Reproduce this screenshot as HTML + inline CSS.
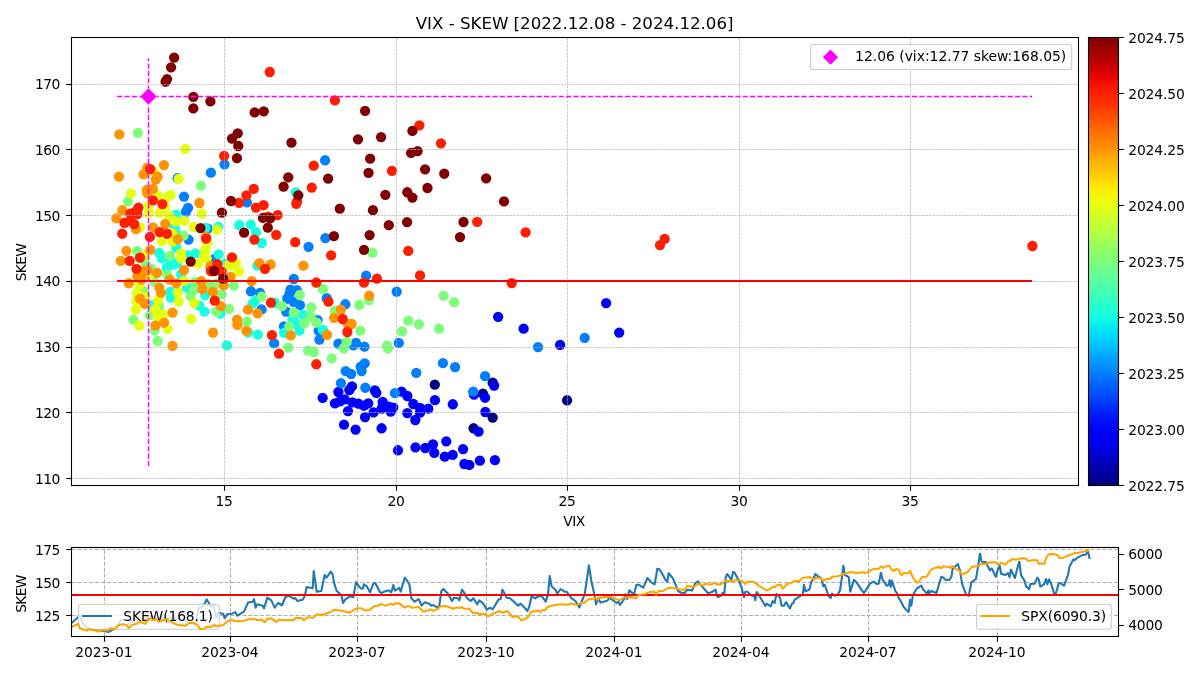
<!DOCTYPE html>
<html lang="en">
<head>
<meta charset="utf-8">
<title>VIX - SKEW [2022.12.08 - 2024.12.06]</title>
<style>
html,body{margin:0;padding:0;background:#fff;}
body{width:1200px;height:675px;overflow:hidden;font-family:"DejaVu Sans","Liberation Sans",sans-serif;}
svg text{white-space:pre;}
</style>
</head>
<body>
<svg width="1200" height="675" viewBox="0 0 1200 675" style="display:block;font-family:'DejaVu Sans','Liberation Sans',sans-serif">
<defs>
<clipPath id="c1"><rect x="71.5" y="37.5" width="1007" height="448"/></clipPath>
<clipPath id="c2"><rect x="71.5" y="547.5" width="1047" height="89"/></clipPath>
<linearGradient id="jet" x1="0" y1="0" x2="0" y2="1"><stop offset="0" stop-color="#800000"/><stop offset="0.02" stop-color="#960000"/><stop offset="0.04" stop-color="#ad0000"/><stop offset="0.06" stop-color="#c40000"/><stop offset="0.08" stop-color="#df0000"/><stop offset="0.1" stop-color="#f60b00"/><stop offset="0.12" stop-color="#ff1e00"/><stop offset="0.15" stop-color="#ff3400"/><stop offset="0.17" stop-color="#ff4700"/><stop offset="0.19" stop-color="#ff5900"/><stop offset="0.21" stop-color="#ff6f00"/><stop offset="0.23" stop-color="#ff8200"/><stop offset="0.25" stop-color="#ff9400"/><stop offset="0.27" stop-color="#ffab00"/><stop offset="0.29" stop-color="#ffbd00"/><stop offset="0.31" stop-color="#ffd000"/><stop offset="0.33" stop-color="#ffe600"/><stop offset="0.35" stop-color="#f4f802"/><stop offset="0.38" stop-color="#e4ff13"/><stop offset="0.4" stop-color="#d1ff26"/><stop offset="0.42" stop-color="#c1ff36"/><stop offset="0.44" stop-color="#b1ff46"/><stop offset="0.46" stop-color="#9dff5a"/><stop offset="0.48" stop-color="#8dff6a"/><stop offset="0.5" stop-color="#7dff7a"/><stop offset="0.52" stop-color="#6aff8d"/><stop offset="0.54" stop-color="#5aff9d"/><stop offset="0.56" stop-color="#49ffad"/><stop offset="0.58" stop-color="#36ffc1"/><stop offset="0.6" stop-color="#26ffd1"/><stop offset="0.62" stop-color="#16ffe1"/><stop offset="0.65" stop-color="#02e8f4"/><stop offset="0.67" stop-color="#00d4ff"/><stop offset="0.69" stop-color="#00c0ff"/><stop offset="0.71" stop-color="#00a8ff"/><stop offset="0.73" stop-color="#0094ff"/><stop offset="0.75" stop-color="#0080ff"/><stop offset="0.77" stop-color="#0068ff"/><stop offset="0.79" stop-color="#0054ff"/><stop offset="0.81" stop-color="#0040ff"/><stop offset="0.83" stop-color="#0028ff"/><stop offset="0.85" stop-color="#0014ff"/><stop offset="0.88" stop-color="#0000ff"/><stop offset="0.9" stop-color="#0000f6"/><stop offset="0.92" stop-color="#0000df"/><stop offset="0.94" stop-color="#0000c8"/><stop offset="0.96" stop-color="#0000ad"/><stop offset="0.98" stop-color="#000096"/><stop offset="1" stop-color="#000080"/></linearGradient>
</defs>
<rect width="1200" height="675" fill="#fff"/>
<g id="scatter-axes">
<g clip-path="url(#c1)">
<g fill="#000080"><circle cx="434.8" cy="384.67" r="5.15"/><circle cx="492.67" cy="382.67" r="5.15"/><circle cx="482.93" cy="393.73" r="5.15"/><circle cx="492.67" cy="417.6" r="5.15"/><circle cx="473.6" cy="428.27" r="5.15"/><circle cx="567.07" cy="400.27" r="5.15"/></g>
<g fill="#0000ff"><circle cx="338.4" cy="392" r="5.15"/><circle cx="349.33" cy="390" r="5.15"/><circle cx="498.13" cy="316.8" r="5.15"/><circle cx="523.6" cy="328.67" r="5.15"/><circle cx="560.13" cy="344.8" r="5.15"/><circle cx="606.13" cy="303.07" r="5.15"/><circle cx="619.2" cy="332.53" r="5.15"/><circle cx="352" cy="386.4" r="5.15"/><circle cx="374.93" cy="390.4" r="5.15"/><circle cx="376.27" cy="392.93" r="5.15"/><circle cx="322.67" cy="397.87" r="5.15"/><circle cx="334.93" cy="403.33" r="5.15"/><circle cx="340" cy="401.33" r="5.15"/><circle cx="344.67" cy="399.33" r="5.15"/><circle cx="352.27" cy="402.4" r="5.15"/><circle cx="358.4" cy="403.73" r="5.15"/><circle cx="364" cy="405.73" r="5.15"/><circle cx="368.27" cy="403.33" r="5.15"/><circle cx="348" cy="411.07" r="5.15"/><circle cx="365.07" cy="417.07" r="5.15"/><circle cx="373.6" cy="412.4" r="5.15"/><circle cx="382.67" cy="402" r="5.15"/><circle cx="381.6" cy="408.67" r="5.15"/><circle cx="388.67" cy="406.67" r="5.15"/><circle cx="393.33" cy="407.6" r="5.15"/><circle cx="390.67" cy="411.6" r="5.15"/><circle cx="401.6" cy="391.6" r="5.15"/><circle cx="407.33" cy="396" r="5.15"/><circle cx="413.33" cy="404" r="5.15"/><circle cx="407.33" cy="413.07" r="5.15"/><circle cx="415.33" cy="420" r="5.15"/><circle cx="420" cy="408" r="5.15"/><circle cx="420" cy="412.67" r="5.15"/><circle cx="428.27" cy="408.67" r="5.15"/><circle cx="434.93" cy="400.13" r="5.15"/><circle cx="452.8" cy="404.27" r="5.15"/><circle cx="344" cy="424.67" r="5.15"/><circle cx="355.6" cy="429.6" r="5.15"/><circle cx="381.6" cy="428.27" r="5.15"/><circle cx="494.13" cy="385.6" r="5.15"/><circle cx="474" cy="394.67" r="5.15"/><circle cx="485.07" cy="397.73" r="5.15"/><circle cx="485.33" cy="412" r="5.15"/><circle cx="478.53" cy="431.6" r="5.15"/><circle cx="398" cy="450.27" r="5.15"/><circle cx="415.47" cy="447.47" r="5.15"/><circle cx="425.33" cy="448" r="5.15"/><circle cx="432.93" cy="444.4" r="5.15"/><circle cx="434.27" cy="452.93" r="5.15"/><circle cx="446.27" cy="441.33" r="5.15"/><circle cx="444.8" cy="456.67" r="5.15"/><circle cx="452.67" cy="454.93" r="5.15"/><circle cx="463.07" cy="449.07" r="5.15"/><circle cx="464.4" cy="464" r="5.15"/><circle cx="469.33" cy="464.93" r="5.15"/><circle cx="479.87" cy="460.67" r="5.15"/><circle cx="494.93" cy="460.13" r="5.15"/></g>
<g fill="#0080ff"><circle cx="224.53" cy="164.4" r="5.15"/><circle cx="210.93" cy="172.67" r="5.15"/><circle cx="177.6" cy="178.27" r="5.15"/><circle cx="184" cy="196.67" r="5.15"/><circle cx="188" cy="207.81" r="5.15"/><circle cx="246.88" cy="202.27" r="5.15"/><circle cx="185.87" cy="211.87" r="5.15"/><circle cx="188.53" cy="239.6" r="5.15"/><circle cx="207.73" cy="228.61" r="5.15"/><circle cx="214.13" cy="259.27" r="5.15"/><circle cx="308.53" cy="246.85" r="5.15"/><circle cx="325.39" cy="238.21" r="5.15"/><circle cx="250.93" cy="291.27" r="5.15"/><circle cx="260" cy="292.87" r="5.15"/><circle cx="261.6" cy="309.4" r="5.15"/><circle cx="293.81" cy="279" r="5.15"/><circle cx="290.4" cy="289.67" r="5.15"/><circle cx="296.8" cy="290.2" r="5.15"/><circle cx="289.33" cy="294.47" r="5.15"/><circle cx="287.2" cy="298.73" r="5.15"/><circle cx="293.6" cy="301.93" r="5.15"/><circle cx="300" cy="305.13" r="5.15"/><circle cx="286.13" cy="311.53" r="5.15"/><circle cx="317.6" cy="320.07" r="5.15"/><circle cx="284" cy="326.4" r="5.15"/><circle cx="326.67" cy="298.2" r="5.15"/><circle cx="345.33" cy="304.27" r="5.15"/><circle cx="274.19" cy="343.47" r="5.15"/><circle cx="318.67" cy="330.67" r="5.15"/><circle cx="319.41" cy="339.52" r="5.15"/><circle cx="338.4" cy="343.68" r="5.15"/><circle cx="345.73" cy="371.07" r="5.15"/><circle cx="340.93" cy="383.07" r="5.15"/><circle cx="325.07" cy="160.27" r="5.15"/><circle cx="366.13" cy="275.73" r="5.15"/><circle cx="396.67" cy="291.73" r="5.15"/><circle cx="356" cy="342.93" r="5.15"/><circle cx="353.33" cy="345.33" r="5.15"/><circle cx="364.4" cy="346.67" r="5.15"/><circle cx="398.8" cy="342.93" r="5.15"/><circle cx="364.67" cy="363.33" r="5.15"/><circle cx="360.67" cy="366.67" r="5.15"/><circle cx="442.93" cy="363.2" r="5.15"/><circle cx="455.07" cy="367.07" r="5.15"/><circle cx="538" cy="347.2" r="5.15"/><circle cx="584.67" cy="337.87" r="5.15"/><circle cx="361.6" cy="371.07" r="5.15"/><circle cx="351.07" cy="374" r="5.15"/><circle cx="365.33" cy="387.73" r="5.15"/><circle cx="394.93" cy="393.07" r="5.15"/><circle cx="416.27" cy="372.93" r="5.15"/><circle cx="485.07" cy="376.13" r="5.15"/><circle cx="473.2" cy="391.6" r="5.15"/></g>
<g fill="#16ffe1"><circle cx="176.27" cy="214.53" r="5.15"/><circle cx="174.67" cy="226.8" r="5.15"/><circle cx="175.73" cy="232.13" r="5.15"/><circle cx="176.27" cy="247.6" r="5.15"/><circle cx="205.6" cy="227.87" r="5.15"/><circle cx="218.4" cy="226.8" r="5.15"/><circle cx="195.47" cy="253.47" r="5.15"/><circle cx="218.61" cy="254.32" r="5.15"/><circle cx="159.2" cy="252.93" r="5.15"/><circle cx="161.87" cy="258.27" r="5.15"/><circle cx="187.47" cy="255.07" r="5.15"/><circle cx="295.73" cy="192.4" r="5.15"/><circle cx="239.2" cy="224.99" r="5.15"/><circle cx="250.72" cy="224.45" r="5.15"/><circle cx="255.95" cy="232.13" r="5.15"/><circle cx="261.81" cy="243.01" r="5.15"/><circle cx="225.33" cy="263.53" r="5.15"/><circle cx="152.27" cy="305.13" r="5.15"/><circle cx="166.67" cy="267.8" r="5.15"/><circle cx="173.6" cy="264.6" r="5.15"/><circle cx="170.4" cy="291.8" r="5.15"/><circle cx="170.93" cy="297.67" r="5.15"/><circle cx="181.07" cy="274.2" r="5.15"/><circle cx="188.53" cy="288.07" r="5.15"/><circle cx="199.2" cy="305.67" r="5.15"/><circle cx="204.53" cy="311.53" r="5.15"/><circle cx="205.07" cy="295" r="5.15"/><circle cx="220.53" cy="313.67" r="5.15"/><circle cx="257.33" cy="265.67" r="5.15"/><circle cx="255.2" cy="300.87" r="5.15"/><circle cx="252.53" cy="303.53" r="5.15"/><circle cx="274.93" cy="303" r="5.15"/><circle cx="302.67" cy="314.73" r="5.15"/><circle cx="292.53" cy="319.53" r="5.15"/><circle cx="297.87" cy="325.4" r="5.15"/><circle cx="322.93" cy="329.81" r="5.15"/><circle cx="226.93" cy="345.28" r="5.15"/><circle cx="247.95" cy="332.27" r="5.15"/><circle cx="257.87" cy="334.61" r="5.15"/><circle cx="284" cy="332.8" r="5.15"/><circle cx="294.67" cy="322.13" r="5.15"/><circle cx="299.47" cy="330.67" r="5.15"/><circle cx="170.8" cy="261.2" r="5.15"/><circle cx="177.2" cy="263.2" r="5.15"/><circle cx="186.8" cy="287.6" r="5.15"/></g>
<g fill="#7dff7a"><circle cx="137.87" cy="132.8" r="5.15"/><circle cx="200.93" cy="185.73" r="5.15"/><circle cx="127.95" cy="201.52" r="5.15"/><circle cx="183.41" cy="235.65" r="5.15"/><circle cx="137.01" cy="250.8" r="5.15"/><circle cx="169.87" cy="255.92" r="5.15"/><circle cx="145.87" cy="264.6" r="5.15"/><circle cx="143.73" cy="291.27" r="5.15"/><circle cx="133.28" cy="319.53" r="5.15"/><circle cx="149.6" cy="315.27" r="5.15"/><circle cx="151.2" cy="268.87" r="5.15"/><circle cx="154.4" cy="282.2" r="5.15"/><circle cx="159.2" cy="306.73" r="5.15"/><circle cx="167.2" cy="274.73" r="5.15"/><circle cx="190.67" cy="296.07" r="5.15"/><circle cx="194.93" cy="282.2" r="5.15"/><circle cx="193.87" cy="290.2" r="5.15"/><circle cx="216.27" cy="311.53" r="5.15"/><circle cx="221.6" cy="294.47" r="5.15"/><circle cx="229.07" cy="308.87" r="5.15"/><circle cx="216.27" cy="283.8" r="5.15"/><circle cx="207.73" cy="283.8" r="5.15"/><circle cx="233.87" cy="285.61" r="5.15"/><circle cx="261.6" cy="296.6" r="5.15"/><circle cx="246.88" cy="321.67" r="5.15"/><circle cx="322.93" cy="289.13" r="5.15"/><circle cx="299.79" cy="295" r="5.15"/><circle cx="282.08" cy="306.2" r="5.15"/><circle cx="293.81" cy="312.6" r="5.15"/><circle cx="311.2" cy="307.48" r="5.15"/><circle cx="310.67" cy="316.87" r="5.15"/><circle cx="316.53" cy="322.73" r="5.15"/><circle cx="304.27" cy="323.27" r="5.15"/><circle cx="289.33" cy="326.4" r="5.15"/><circle cx="334.67" cy="311" r="5.15"/><circle cx="154.61" cy="330.13" r="5.15"/><circle cx="157.6" cy="341.01" r="5.15"/><circle cx="288.27" cy="347.73" r="5.15"/><circle cx="308" cy="350.72" r="5.15"/><circle cx="313.87" cy="352" r="5.15"/><circle cx="331.79" cy="358.4" r="5.15"/><circle cx="346.67" cy="342" r="5.15"/><circle cx="343.73" cy="348.27" r="5.15"/><circle cx="372.4" cy="252.67" r="5.15"/><circle cx="368.93" cy="300" r="5.15"/><circle cx="359.2" cy="304.93" r="5.15"/><circle cx="360.27" cy="330.53" r="5.15"/><circle cx="387.07" cy="345.73" r="5.15"/><circle cx="388" cy="348.27" r="5.15"/><circle cx="402" cy="331.47" r="5.15"/><circle cx="408.27" cy="320.67" r="5.15"/><circle cx="418.93" cy="324.27" r="5.15"/><circle cx="439.07" cy="328.67" r="5.15"/><circle cx="443.6" cy="295.73" r="5.15"/><circle cx="454.13" cy="302.13" r="5.15"/></g>
<g fill="#e4ff13"><circle cx="185.33" cy="148.93" r="5.15"/><circle cx="153.33" cy="171.33" r="5.15"/><circle cx="178.67" cy="178.93" r="5.15"/><circle cx="130.93" cy="193.47" r="5.15"/><circle cx="158" cy="196" r="5.15"/><circle cx="170.67" cy="194.93" r="5.15"/><circle cx="168" cy="196.67" r="5.15"/><circle cx="148.53" cy="206" r="5.15"/><circle cx="165.07" cy="207.07" r="5.15"/><circle cx="140" cy="227.33" r="5.15"/><circle cx="148.53" cy="212.93" r="5.15"/><circle cx="159.73" cy="212.93" r="5.15"/><circle cx="169.33" cy="216.13" r="5.15"/><circle cx="175.95" cy="221.47" r="5.15"/><circle cx="161.87" cy="241.2" r="5.15"/><circle cx="172.53" cy="241.73" r="5.15"/><circle cx="172.53" cy="233.2" r="5.15"/><circle cx="201.87" cy="213.68" r="5.15"/><circle cx="184.27" cy="220.93" r="5.15"/><circle cx="193.87" cy="227.01" r="5.15"/><circle cx="217.12" cy="229.68" r="5.15"/><circle cx="207.73" cy="242.27" r="5.15"/><circle cx="205.6" cy="248.67" r="5.15"/><circle cx="204" cy="255.07" r="5.15"/><circle cx="144.8" cy="255.07" r="5.15"/><circle cx="181.07" cy="253.47" r="5.15"/><circle cx="181.07" cy="258.27" r="5.15"/><circle cx="206.67" cy="258.27" r="5.15"/><circle cx="236" cy="263" r="5.15"/><circle cx="139.47" cy="285.4" r="5.15"/><circle cx="136.8" cy="292.87" r="5.15"/><circle cx="145.87" cy="296.6" r="5.15"/><circle cx="136.27" cy="300.87" r="5.15"/><circle cx="135.95" cy="309.61" r="5.15"/><circle cx="139.47" cy="325.55" r="5.15"/><circle cx="158.13" cy="300.33" r="5.15"/><circle cx="155.25" cy="309.08" r="5.15"/><circle cx="157.6" cy="315.8" r="5.15"/><circle cx="162.93" cy="314.73" r="5.15"/><circle cx="167.73" cy="329.07" r="5.15"/><circle cx="177.87" cy="292.55" r="5.15"/><circle cx="178.61" cy="301.61" r="5.15"/><circle cx="184.27" cy="281.13" r="5.15"/><circle cx="198.13" cy="263.53" r="5.15"/><circle cx="194.19" cy="303" r="5.15"/><circle cx="191.2" cy="318.79" r="5.15"/><circle cx="228" cy="265.67" r="5.15"/><circle cx="231.73" cy="265.67" r="5.15"/><circle cx="238.99" cy="271.53" r="5.15"/><circle cx="149.2" cy="275.2" r="5.15"/></g>
<g fill="#ff9400"><circle cx="119.33" cy="134.4" r="5.15"/><circle cx="163.87" cy="165.07" r="5.15"/><circle cx="147.33" cy="167.73" r="5.15"/><circle cx="143.6" cy="174.4" r="5.15"/><circle cx="118.93" cy="176.53" r="5.15"/><circle cx="157.6" cy="176.67" r="5.15"/><circle cx="155.73" cy="179.6" r="5.15"/><circle cx="146.93" cy="190" r="5.15"/><circle cx="152.93" cy="188.93" r="5.15"/><circle cx="147.33" cy="193.33" r="5.15"/><circle cx="199.41" cy="203.01" r="5.15"/><circle cx="122.4" cy="210.27" r="5.15"/><circle cx="116.33" cy="218.33" r="5.15"/><circle cx="135.95" cy="229.15" r="5.15"/><circle cx="153.01" cy="227.33" r="5.15"/><circle cx="165.28" cy="223.92" r="5.15"/><circle cx="177.87" cy="239.07" r="5.15"/><circle cx="206.13" cy="236.93" r="5.15"/><circle cx="126.35" cy="250.8" r="5.15"/><circle cx="150.35" cy="249.95" r="5.15"/><circle cx="120.8" cy="260.87" r="5.15"/><circle cx="259.47" cy="263.21" r="5.15"/><circle cx="270.67" cy="264.28" r="5.15"/><circle cx="303.41" cy="265.67" r="5.15"/><circle cx="144.8" cy="271" r="5.15"/><circle cx="137.33" cy="276.33" r="5.15"/><circle cx="141.6" cy="279.53" r="5.15"/><circle cx="128.8" cy="283.27" r="5.15"/><circle cx="140" cy="298.73" r="5.15"/><circle cx="144.8" cy="303.85" r="5.15"/><circle cx="157.07" cy="272.81" r="5.15"/><circle cx="159.41" cy="287.53" r="5.15"/><circle cx="161.01" cy="292.87" r="5.15"/><circle cx="164" cy="322.73" r="5.15"/><circle cx="155.47" cy="325.33" r="5.15"/><circle cx="172.53" cy="312.6" r="5.15"/><circle cx="169.87" cy="279.53" r="5.15"/><circle cx="176.27" cy="283.27" r="5.15"/><circle cx="183.95" cy="270.15" r="5.15"/><circle cx="201.12" cy="281.13" r="5.15"/><circle cx="202.4" cy="289.13" r="5.15"/><circle cx="212.85" cy="291.8" r="5.15"/><circle cx="221.07" cy="306.2" r="5.15"/><circle cx="223.73" cy="285.4" r="5.15"/><circle cx="210.4" cy="266.2" r="5.15"/><circle cx="230.67" cy="276.87" r="5.15"/><circle cx="251.68" cy="281.13" r="5.15"/><circle cx="247.95" cy="309.72" r="5.15"/><circle cx="257.55" cy="313.35" r="5.15"/><circle cx="237.07" cy="319.53" r="5.15"/><circle cx="237.39" cy="324.8" r="5.15"/><circle cx="246.45" cy="330.88" r="5.15"/><circle cx="340.85" cy="309.61" r="5.15"/><circle cx="334.13" cy="317.93" r="5.15"/><circle cx="348" cy="324.33" r="5.15"/><circle cx="172.53" cy="345.92" r="5.15"/><circle cx="213.07" cy="332.59" r="5.15"/><circle cx="290.72" cy="335.47" r="5.15"/><circle cx="326.99" cy="334.93" r="5.15"/><circle cx="369.2" cy="295.73" r="5.15"/><circle cx="351.6" cy="324" r="5.15"/><circle cx="147.6" cy="270.4" r="5.15"/></g>
<g fill="#ff1e00"><circle cx="224.13" cy="155.87" r="5.15"/><circle cx="150.27" cy="169.07" r="5.15"/><circle cx="153.01" cy="200.35" r="5.15"/><circle cx="162.4" cy="204.08" r="5.15"/><circle cx="138.4" cy="207.6" r="5.15"/><circle cx="238.99" cy="202.8" r="5.15"/><circle cx="246.4" cy="195.33" r="5.15"/><circle cx="253.73" cy="188.93" r="5.15"/><circle cx="255.95" cy="207.6" r="5.15"/><circle cx="130.4" cy="213.68" r="5.15"/><circle cx="137.33" cy="214" r="5.15"/><circle cx="124.53" cy="222.75" r="5.15"/><circle cx="134.13" cy="224.13" r="5.15"/><circle cx="130.4" cy="220.93" r="5.15"/><circle cx="122.19" cy="233.73" r="5.15"/><circle cx="159.73" cy="232.13" r="5.15"/><circle cx="166.99" cy="233.73" r="5.15"/><circle cx="149.92" cy="236.93" r="5.15"/><circle cx="135.73" cy="211.33" r="5.15"/><circle cx="206.13" cy="238.53" r="5.15"/><circle cx="140" cy="257.73" r="5.15"/><circle cx="129.65" cy="260.87" r="5.15"/><circle cx="263.52" cy="205.15" r="5.15"/><circle cx="297.01" cy="201.52" r="5.15"/><circle cx="296.27" cy="203.87" r="5.15"/><circle cx="311.73" cy="187.6" r="5.15"/><circle cx="267.79" cy="216.67" r="5.15"/><circle cx="277.6" cy="215.07" r="5.15"/><circle cx="254.35" cy="239.6" r="5.15"/><circle cx="276.21" cy="234.8" r="5.15"/><circle cx="295.2" cy="242.05" r="5.15"/><circle cx="331.15" cy="255.28" r="5.15"/><circle cx="231.95" cy="257.41" r="5.15"/><circle cx="136.48" cy="268.87" r="5.15"/><circle cx="214.67" cy="300.55" r="5.15"/><circle cx="217.33" cy="264.07" r="5.15"/><circle cx="221.6" cy="271.53" r="5.15"/><circle cx="210.93" cy="271" r="5.15"/><circle cx="265.01" cy="268.87" r="5.15"/><circle cx="270.88" cy="302.68" r="5.15"/><circle cx="316.32" cy="282.52" r="5.15"/><circle cx="328.48" cy="301.72" r="5.15"/><circle cx="342.67" cy="319" r="5.15"/><circle cx="271.95" cy="335.15" r="5.15"/><circle cx="278.99" cy="353.6" r="5.15"/><circle cx="316.32" cy="364.27" r="5.15"/><circle cx="347.33" cy="332" r="5.15"/><circle cx="269.73" cy="72" r="5.15"/><circle cx="334.93" cy="100.4" r="5.15"/><circle cx="419.33" cy="125.33" r="5.15"/><circle cx="313.73" cy="165.6" r="5.15"/><circle cx="392" cy="170.8" r="5.15"/><circle cx="440.93" cy="143.33" r="5.15"/><circle cx="477.2" cy="221.87" r="5.15"/><circle cx="408.27" cy="250.93" r="5.15"/><circle cx="376.93" cy="278.67" r="5.15"/><circle cx="364" cy="282.67" r="5.15"/><circle cx="420" cy="275.47" r="5.15"/><circle cx="525.6" cy="232.4" r="5.15"/><circle cx="660" cy="245.07" r="5.15"/><circle cx="511.73" cy="283.07" r="5.15"/><circle cx="664.67" cy="238.93" r="5.15"/><circle cx="1032.4" cy="246" r="5.15"/></g>
<g fill="#800000"><circle cx="174.13" cy="57.6" r="5.15"/><circle cx="171.07" cy="67.33" r="5.15"/><circle cx="167.07" cy="79.07" r="5.15"/><circle cx="165.6" cy="81.73" r="5.15"/><circle cx="193.33" cy="96.93" r="5.15"/><circle cx="193.33" cy="108.4" r="5.15"/><circle cx="210.4" cy="101.47" r="5.15"/><circle cx="254.67" cy="112.4" r="5.15"/><circle cx="237.73" cy="133.33" r="5.15"/><circle cx="232" cy="138.67" r="5.15"/><circle cx="238.27" cy="146" r="5.15"/><circle cx="236.93" cy="158.13" r="5.15"/><circle cx="230.99" cy="200.99" r="5.15"/><circle cx="221.92" cy="212.72" r="5.15"/><circle cx="200.48" cy="228.08" r="5.15"/><circle cx="190.67" cy="261.61" r="5.15"/><circle cx="283.6" cy="186.67" r="5.15"/><circle cx="298.27" cy="195.33" r="5.15"/><circle cx="339.79" cy="208.67" r="5.15"/><circle cx="262.99" cy="217.95" r="5.15"/><circle cx="270.13" cy="218.27" r="5.15"/><circle cx="267.79" cy="227.55" r="5.15"/><circle cx="244.11" cy="232.67" r="5.15"/><circle cx="333.92" cy="236.08" r="5.15"/><circle cx="214.13" cy="271" r="5.15"/><circle cx="223.2" cy="278.68" r="5.15"/><circle cx="263.73" cy="111.33" r="5.15"/><circle cx="365.07" cy="110.93" r="5.15"/><circle cx="291.47" cy="142.67" r="5.15"/><circle cx="358" cy="139.33" r="5.15"/><circle cx="381.07" cy="137.07" r="5.15"/><circle cx="412.4" cy="130.93" r="5.15"/><circle cx="411.07" cy="152.93" r="5.15"/><circle cx="417.6" cy="151.07" r="5.15"/><circle cx="370.13" cy="158.67" r="5.15"/><circle cx="368.53" cy="172.8" r="5.15"/><circle cx="288.27" cy="177.33" r="5.15"/><circle cx="328.13" cy="178.53" r="5.15"/><circle cx="372.93" cy="210.13" r="5.15"/><circle cx="385.33" cy="194.8" r="5.15"/><circle cx="407.33" cy="192.27" r="5.15"/><circle cx="412.4" cy="197.6" r="5.15"/><circle cx="425.07" cy="169.33" r="5.15"/><circle cx="444.27" cy="173.73" r="5.15"/><circle cx="486.13" cy="178.4" r="5.15"/><circle cx="427.47" cy="188" r="5.15"/><circle cx="504" cy="201.47" r="5.15"/><circle cx="407.07" cy="222.13" r="5.15"/><circle cx="463.47" cy="222" r="5.15"/><circle cx="388.8" cy="225.2" r="5.15"/><circle cx="369.6" cy="235.07" r="5.15"/><circle cx="364" cy="249.87" r="5.15"/><circle cx="460" cy="237.07" r="5.15"/></g>
</g>
<g stroke="#b0b0b0" stroke-width="0.7" stroke-dasharray="2.57 1.11" fill="none">
<line x1="224.5" y1="485.5" x2="224.5" y2="37.5"/>
<line x1="396.5" y1="485.5" x2="396.5" y2="37.5"/>
<line x1="567.5" y1="485.5" x2="567.5" y2="37.5"/>
<line x1="739.5" y1="485.5" x2="739.5" y2="37.5"/>
<line x1="910.5" y1="485.5" x2="910.5" y2="37.5"/>
<line x1="71.5" y1="478.5" x2="1078.5" y2="478.5"/>
<line x1="71.5" y1="412.5" x2="1078.5" y2="412.5"/>
<line x1="71.5" y1="347.5" x2="1078.5" y2="347.5"/>
<line x1="71.5" y1="281.5" x2="1078.5" y2="281.5"/>
<line x1="71.5" y1="215.5" x2="1078.5" y2="215.5"/>
<line x1="71.5" y1="149.5" x2="1078.5" y2="149.5"/>
<line x1="71.5" y1="84.5" x2="1078.5" y2="84.5"/>
</g>
<line x1="117.1" y1="281" x2="1032" y2="281" stroke="#ff0000" stroke-width="2.08"/>
<g stroke="#ff00ff" stroke-width="1.45" stroke-dasharray="5.14 2.22" fill="none">
<line x1="117.1" y1="96.5" x2="1032" y2="96.5"/>
<line x1="148.5" y1="466" x2="148.5" y2="58.3"/>
</g>
<path d="M148.5 88 L157 96.5 L148.5 105 L140 96.5 Z" fill="#ff00ff" stroke="#fff" stroke-width="0.6"/>
<rect x="71.5" y="37.5" width="1007" height="448" fill="none" stroke="#000" stroke-width="1.1"/>
<g stroke="#000" stroke-width="1.1">
<line x1="224.5" y1="485.5" x2="224.5" y2="490.8"/>
<line x1="396.5" y1="485.5" x2="396.5" y2="490.8"/>
<line x1="567.5" y1="485.5" x2="567.5" y2="490.8"/>
<line x1="739.5" y1="485.5" x2="739.5" y2="490.8"/>
<line x1="910.5" y1="485.5" x2="910.5" y2="490.8"/>
<line x1="66.2" y1="478.5" x2="71.5" y2="478.5"/>
<line x1="66.2" y1="412.5" x2="71.5" y2="412.5"/>
<line x1="66.2" y1="347.5" x2="71.5" y2="347.5"/>
<line x1="66.2" y1="281.5" x2="71.5" y2="281.5"/>
<line x1="66.2" y1="215.5" x2="71.5" y2="215.5"/>
<line x1="66.2" y1="149.5" x2="71.5" y2="149.5"/>
<line x1="66.2" y1="84.5" x2="71.5" y2="84.5"/>
</g>
<g font-size="13.89px" fill="#000">
<text x="224.2" y="505.7" text-anchor="middle" textLength="17.27" lengthAdjust="spacing">15</text>
<text x="396.2" y="505.7" text-anchor="middle" textLength="17.27" lengthAdjust="spacing">20</text>
<text x="567.2" y="505.7" text-anchor="middle" textLength="17.27" lengthAdjust="spacing">25</text>
<text x="739.2" y="505.7" text-anchor="middle" textLength="17.27" lengthAdjust="spacing">30</text>
<text x="910.2" y="505.7" text-anchor="middle" textLength="17.27" lengthAdjust="spacing">35</text>
<text x="60.4" y="483.9" text-anchor="end" textLength="25.40" lengthAdjust="spacing">110</text>
<text x="60.4" y="417.9" text-anchor="end" textLength="25.40" lengthAdjust="spacing">120</text>
<text x="60.4" y="351.9" text-anchor="end" textLength="25.40" lengthAdjust="spacing">130</text>
<text x="60.4" y="285.9" text-anchor="end" textLength="25.40" lengthAdjust="spacing">140</text>
<text x="60.4" y="220.9" text-anchor="end" textLength="25.40" lengthAdjust="spacing">150</text>
<text x="60.4" y="154.9" text-anchor="end" textLength="25.40" lengthAdjust="spacing">160</text>
<text x="60.4" y="88.9" text-anchor="end" textLength="25.40" lengthAdjust="spacing">170</text>
<text x="574.2" y="526.2" text-anchor="middle" textLength="21.91" lengthAdjust="spacing">VIX</text>
<text transform="translate(25.7 262.1) rotate(-90)" text-anchor="middle" textLength="38.2" lengthAdjust="spacing">SKEW</text>
</g>
<text x="574.6" y="28.6" text-anchor="middle" font-size="16.67px" fill="#000" textLength="317.75" lengthAdjust="spacing">VIX - SKEW [2022.12.08 - 2024.12.06]</text>
<rect x="810.5" y="44.5" width="261.2" height="25" rx="2.8" ry="2.8" fill="#fff" fill-opacity="0.8" stroke="#ccc" stroke-width="1.1"/>
<path d="M830.5 49.6 L838.1 57.2 L830.5 64.8 L822.9 57.2 Z" fill="#ff00ff"/>
<text x="855.1" y="61" font-size="13.89px" fill="#000">12.06 (vix:12.77 skew:168.05)</text>
</g>
<g id="colorbar">
<rect x="1088.5" y="37.5" width="30" height="448" fill="url(#jet)" stroke="#000" stroke-width="1.1"/>
<g stroke="#000" stroke-width="1.1">
<line x1="1118.5" y1="485.5" x2="1123.8" y2="485.5"/>
<line x1="1118.5" y1="429.5" x2="1123.8" y2="429.5"/>
<line x1="1118.5" y1="373.5" x2="1123.8" y2="373.5"/>
<line x1="1118.5" y1="317.5" x2="1123.8" y2="317.5"/>
<line x1="1118.5" y1="261.5" x2="1123.8" y2="261.5"/>
<line x1="1118.5" y1="205.5" x2="1123.8" y2="205.5"/>
<line x1="1118.5" y1="149.5" x2="1123.8" y2="149.5"/>
<line x1="1118.5" y1="93.5" x2="1123.8" y2="93.5"/>
<line x1="1118.5" y1="37.5" x2="1123.8" y2="37.5"/>
</g><g font-size="13.89px" fill="#000">
<text x="1128.2" y="490.8" textLength="56.64" lengthAdjust="spacing">2022.75</text>
<text x="1128.2" y="434.8" textLength="56.64" lengthAdjust="spacing">2023.00</text>
<text x="1128.2" y="378.8" textLength="56.64" lengthAdjust="spacing">2023.25</text>
<text x="1128.2" y="322.8" textLength="56.64" lengthAdjust="spacing">2023.50</text>
<text x="1128.2" y="266.8" textLength="56.64" lengthAdjust="spacing">2023.75</text>
<text x="1128.2" y="210.8" textLength="56.64" lengthAdjust="spacing">2024.00</text>
<text x="1128.2" y="154.8" textLength="56.64" lengthAdjust="spacing">2024.25</text>
<text x="1128.2" y="98.8" textLength="56.64" lengthAdjust="spacing">2024.50</text>
<text x="1128.2" y="42.8" textLength="56.64" lengthAdjust="spacing">2024.75</text>
</g></g>
<g id="ts-axes">
<g stroke="#b0b0b0" stroke-width="1.11" stroke-dasharray="4.11 1.78" fill="none">
<line x1="104.5" y1="636.5" x2="104.5" y2="547.5"/>
<line x1="230.5" y1="636.5" x2="230.5" y2="547.5"/>
<line x1="357.5" y1="636.5" x2="357.5" y2="547.5"/>
<line x1="486.5" y1="636.5" x2="486.5" y2="547.5"/>
<line x1="614.5" y1="636.5" x2="614.5" y2="547.5"/>
<line x1="741.5" y1="636.5" x2="741.5" y2="547.5"/>
<line x1="868.5" y1="636.5" x2="868.5" y2="547.5"/>
<line x1="997.5" y1="636.5" x2="997.5" y2="547.5"/>
<line x1="71.5" y1="615.5" x2="1118.5" y2="615.5"/>
<line x1="71.5" y1="582.5" x2="1118.5" y2="582.5"/>
<line x1="71.5" y1="549.5" x2="1118.5" y2="549.5"/>
</g>
<g clip-path="url(#c2)">
<polyline fill="none" stroke="#1f77b4" stroke-width="2.08" stroke-linejoin="round" stroke-linecap="butt" points="71.6,623 80,615.4 82,621.67 84,625 88.67,629 93.33,629.67 98.67,630.33 104,631 108.67,631.93 112.67,629.67 117.33,627.67 120.67,619.93 124,619.67 129.33,621 134.67,620.33 140,621.27 145.33,620.33 148,617.67 153.33,616.33 158.67,617.67 164,618.07 170.67,617.67 176,618.33 180,619 184,620.33 188,622.07 193.33,622.6 196,621.67 198.67,607.67 203.33,606.07 206.67,599.4 210,605 214,607 216,617.67 218,613 220,613 223.33,614.07 224.67,618.07 227.33,614.07 232,613.67 235.33,612.07 237.33,615.67 244,611.67 248,602.6 252.67,601.67 254,599 255.6,607.67 257.33,604.33 262.67,605.67 264,608.33 267.33,597.67 271.33,600.33 274.67,607.67 278,603 282,605.27 285.33,597.27 288.67,595.67 293.33,598.73 295.33,598.07 297.33,601 302.67,599.67 304.67,596.33 306.67,587 312.67,588.33 313.73,571 316.67,591.67 321.33,591 324.67,575 326.67,577.67 330.67,571.67 332.4,573.67 334,582.33 336.67,591 341.33,595 343.07,603 345.33,599.4 350,596.33 353.33,597.27 356,582.33 360.67,588.33 362.67,588.73 364,584.33 366.67,586.33 370,592.33 373.33,583.67 375.33,583 380,592.33 382,593 384,591.67 388.67,590.33 391.33,592.33 393.33,585 394.93,590.6 399.33,587.93 400.67,591.67 404.67,577.67 407.33,581 409.33,584.33 411.33,598.33 414.67,601.67 418.67,599 421.6,605.67 424.67,602.33 429.33,603.67 431.33,605.67 433.33,605 437.33,607.67 439.33,605.67 441.33,591 443.33,589 448,593.67 452,601 454,597.67 458,598.33 459.33,600.33 462,589.67 464,592.33 466.67,597.67 470.67,601 473.33,598.33 477.33,604.33 479.33,600.33 483.33,603.67 486.93,609.67 490,607.67 492.67,609.27 498.67,599.4 500.67,599 502.4,589.67 504,592.33 506.67,597.67 510,598.33 514.67,602.33 518,605.67 520.67,603.67 524.67,607.67 527.33,611 529.33,606.33 531.6,596.33 535.33,598.33 538,596.33 542,596.33 545.73,601.67 548,594.33 549.73,575.93 551.6,586.33 555.33,589.67 557.33,593.67 560.67,589 564.67,591.67 566.67,591.67 568.67,594.33 571.33,598.07 575.33,601 579.33,607.4 582.67,599 584.67,594.33 586.67,581 588.93,565.27 591.33,581 594.67,595.67 596,604.33 598,598.33 600.67,602.6 607.33,600.73 609.33,597.67 614,601 616.67,603 618.67,601.67 620,605 624.67,598.33 625.33,594.33 627.07,599 629.33,590.33 634,594.6 636.4,584.73 638.67,584.73 643.33,587.67 647.33,578.07 651.33,582.33 654.67,584.33 657.33,568.73 659.33,569 663.33,575.67 665.33,579.67 667.33,581.67 668.67,573.27 672.67,578.07 674.67,582.33 678,591 681.33,592.73 684.67,593 687.33,589.67 692,590.6 695.33,583 698,581.27 701.33,585.67 708,593.27 712.67,591.67 715.33,589.67 717.6,597 720.67,595.93 722.67,592.73 724.4,593 725.73,576.73 727.33,574.07 731.33,579.93 733.07,571.93 734.67,572.73 738.67,580.33 741.6,587.67 744,597.27 745.33,591.67 747.33,591.67 752,595.67 754,595.4 755.33,600.33 756.67,591.93 759.33,595.67 765.33,606.07 766.67,603.67 770.67,606.33 772.67,601 774.67,603 776.4,594.07 780,597.67 781.6,605.67 784,605.67 786,602.07 790,608.33 792,603.67 793.33,603 794.67,599.67 801.33,595.4 802.67,595 804,584.73 805.6,591.4 809.33,589.67 811.33,581.67 813.33,579 815.33,574.07 818.67,576.73 821.33,578.33 823.33,586.33 824.67,584.73 828.67,596.33 830.67,598.07 832,593.67 834.67,595.67 838,594.33 840,590.33 842,577 843.33,565.67 844.93,575 848.67,577 850.27,591.67 854,579.93 856,581.67 861.33,589.67 864,593 870,583.67 873.33,581.67 876.67,583.93 878.67,583.67 880.93,572.73 882.67,579.67 886.67,585.67 888.67,585 889.6,579.93 890.8,587 892,580.73 895.33,591 897.33,593.67 898.67,598.33 900,599.67 903.33,606.33 906,609.67 908.67,611.93 910,599.67 911.33,605.67 912.93,595 916.67,588.73 921.33,585.67 923.33,589.67 927.33,594.07 928.4,590.33 929.33,593.27 931.33,591 936.4,593 941.33,576.73 943.33,577.67 946,579.93 949.33,579.93 951.33,577 952.67,568.73 954.67,567 957.73,563.93 960,570.33 962,583.67 966,594.33 968.67,595.93 971.33,582.33 976,579 978,567 980,553.67 981.6,561.67 986,562.07 987.73,566.33 990,570.33 991.73,568.33 995.73,576.73 998,569 999.73,565.67 1001.07,573.67 1005.33,575 1008,573 1009.6,577 1010.93,569.67 1014.93,578.07 1017.33,568.33 1019.33,561.67 1021.07,575.4 1024.67,581 1026,586.33 1027.33,587.4 1029.07,589.27 1030.4,583.93 1034.67,583.67 1037.33,577.67 1038.67,579.4 1040.27,586.6 1044,584.33 1046,579 1047.33,584.33 1048.93,579.4 1050.67,582.33 1054,593.27 1056,593 1058.67,583.4 1060,583 1064,585.67 1066.67,578.6 1068,575 1069.6,566.33 1073.33,559.4 1074.67,560.33 1077.33,557.67 1083.33,554.6 1085.33,555 1088,551.4 1089.7,559"/>
<line x1="71.5" y1="595" x2="1118.5" y2="595" stroke="#ff0000" stroke-width="2.1"/>
</g>
<rect x="78.5" y="604.5" width="140.8" height="24.8" rx="2.8" ry="2.8" fill="#fff" fill-opacity="0.8" stroke="#ccc" stroke-width="1.1"/>
<line x1="82" y1="616" x2="112" y2="616" stroke="#1f77b4" stroke-width="2.08"/>
<text x="123.3" y="620.8" font-size="13.89px" fill="#000" textLength="89.67" lengthAdjust="spacing">SKEW(168.1)</text>
<g clip-path="url(#c2)">
<polyline fill="none" stroke="#ffa500" stroke-width="2.08" stroke-linejoin="round" stroke-linecap="butt" points="71.6,627 78,623.93 80,628.33 86.67,630.6 88.67,629.27 93.33,629.93 98.67,631.67 100,629.93 108.67,630.33 110.67,628.33 114.67,629 118.67,625 122.67,624.33 126.67,625 128.67,627.93 132,625 137.33,623.4 140,621.67 145.33,623.67 148.67,618.33 153.33,620.33 156,619 158.67,621.67 164,619.93 166.67,619 170.67,621.67 176,624.33 178.67,625 185.33,625.67 189.33,623 193.33,623 197.33,625 200,629 204,629 206.67,626.6 210.67,627 214.67,625 216,626.33 223.33,625 228.67,620.6 232,619.93 235.33,621.27 244.67,620.73 247.33,619.4 254,619 256.67,619.93 262,619.67 264.67,622.33 267.33,618.6 272,618.6 276,622.07 279.33,619.67 284.67,620.33 291.33,619.93 293.33,620.33 296,617.67 302,618.07 304,620.33 307.33,617.27 313.33,617.67 316.67,614.6 323.33,614.6 330,612.33 334.67,609.67 343.33,611 349.33,612.73 353.33,610.33 356.67,608.33 360.67,608.33 366,610.6 370,609.67 374,606.33 377.33,605.67 381.33,603.93 384.67,605.67 391.33,603.67 393.33,605 395.33,603.4 399.33,603.4 404,607.4 408.67,606.07 412,607.67 418.67,607 423.33,611.67 428.67,610.33 430.67,609.27 432.67,611 438,608.73 440,606.6 444,606.07 448,606.6 452.67,608.73 457.33,607.4 460,607.93 462,607 464,608.73 469.33,608.73 472.67,613 477.33,612.73 479.33,615 481.33,613.67 486,614.33 488,616.33 493.33,613.67 499.33,611 502.67,612.73 507.33,611 512.67,617 518,616.33 521.33,620.33 524,619.4 528,617 531.33,611.67 538,610.6 540,612.33 542,610.07 545.33,610.07 547.33,607 554,605.27 560,604.33 568,604.73 570.67,603.4 575.33,604.73 578,604.73 580.67,603 584.67,602.6 588,599.4 592.67,598.73 595.33,597.67 597.33,599.67 599.33,598.07 608,596.73 613.33,597.67 618,599.93 620.67,599.67 624,597.67 630,597 636,598.33 638.67,595 644.67,594.07 648.67,592.33 654,591.4 656,594.33 658.67,591 663.33,591 666,589 669.33,587.67 674.67,588.33 684.67,590.33 687.33,585.67 694,587 698,583.67 703.33,585.67 706,583.67 711.33,584.73 714,582.6 718,584.73 722,583.67 725.33,580.73 730,581 732.67,582.07 735.33,579.93 740,580.33 743.33,582.07 745.33,583.93 747.33,581.67 752.67,581.67 755.33,583 758.67,585.67 762,587.67 766.67,590.33 770,589 772.67,586.6 774.67,587.4 776.67,585.27 780.67,584.73 782.67,588.73 786.67,584.33 790.67,583 795.33,581 799.33,581 802.67,577.67 810.67,577.27 814,579.67 816.67,577.67 820.67,578.33 823.33,580.73 826.67,579 830,579 832,576.73 838,576.33 841.33,575 843.33,573.67 846,573.67 850,571.93 858,573.27 861.33,571.93 864.67,573 868,572.33 871.33,569.67 874,569 878.67,568.73 881.33,566.33 882.67,567.93 886,566.33 889.33,565.67 891.33,569 893.33,571 896.67,569 898.67,569.67 900.67,574.33 902,575 903.33,573 908,573.27 910,571 913.33,578.33 916.67,582.33 918.27,582.6 919.6,580.73 922,577 926.67,576.73 930.67,570.07 934.67,567.93 938.67,567 941.33,568.33 942.67,566.33 948.67,567 950,567.93 952.4,566.07 954.67,568.33 958.67,570.33 962,574.6 967.33,572.33 972,566.6 978.67,566.33 980,564.33 986.67,563.67 989.33,562.6 995.33,562.07 997.33,564.33 1000,563.67 1001.33,562.6 1005.33,564.73 1008,561.67 1013.33,559 1016,559.67 1020.67,558.33 1026,558.6 1028,561 1032.67,560.33 1036.67,559.93 1038.93,564.07 1041.33,563.4 1044.27,564.07 1046.67,556.73 1049.07,554.33 1053.33,554.07 1057.33,555 1059.73,558.33 1063.33,557.67 1069.33,555 1073.33,554.07 1074.93,552.73 1076.67,553.27 1084,551.4 1086.67,550.6 1089.7,550.6"/>
</g>
<rect x="976.5" y="604.5" width="134.8" height="24.8" rx="2.8" ry="2.8" fill="#fff" fill-opacity="0.8" stroke="#ccc" stroke-width="1.1"/>
<line x1="980" y1="616" x2="1010" y2="616" stroke="#ffa500" stroke-width="2.08"/>
<text x="1021.3" y="620.8" font-size="13.89px" fill="#000" textLength="84.86" lengthAdjust="spacing">SPX(6090.3)</text>
<rect x="71.5" y="547.5" width="1047" height="89" fill="none" stroke="#000" stroke-width="1.1"/>
<g stroke="#000" stroke-width="1.1">
<line x1="104.5" y1="636.5" x2="104.5" y2="641.8"/>
<line x1="230.5" y1="636.5" x2="230.5" y2="641.8"/>
<line x1="357.5" y1="636.5" x2="357.5" y2="641.8"/>
<line x1="486.5" y1="636.5" x2="486.5" y2="641.8"/>
<line x1="614.5" y1="636.5" x2="614.5" y2="641.8"/>
<line x1="741.5" y1="636.5" x2="741.5" y2="641.8"/>
<line x1="868.5" y1="636.5" x2="868.5" y2="641.8"/>
<line x1="997.5" y1="636.5" x2="997.5" y2="641.8"/>
<line x1="66.2" y1="615.5" x2="71.5" y2="615.5"/>
<line x1="66.2" y1="582.5" x2="71.5" y2="582.5"/>
<line x1="66.2" y1="549.5" x2="71.5" y2="549.5"/>
<line x1="1118.5" y1="625.5" x2="1123.8" y2="625.5"/>
<line x1="1118.5" y1="589.5" x2="1123.8" y2="589.5"/>
<line x1="1118.5" y1="554.5" x2="1123.8" y2="554.5"/>
</g>
<g font-size="13.89px" fill="#000">
<text x="103.9" y="657" text-anchor="middle" textLength="57.40" lengthAdjust="spacing">2023-01</text>
<text x="229.9" y="657" text-anchor="middle" textLength="57.40" lengthAdjust="spacing">2023-04</text>
<text x="356.9" y="657" text-anchor="middle" textLength="57.40" lengthAdjust="spacing">2023-07</text>
<text x="485.9" y="657" text-anchor="middle" textLength="57.40" lengthAdjust="spacing">2023-10</text>
<text x="613.9" y="657" text-anchor="middle" textLength="57.40" lengthAdjust="spacing">2024-01</text>
<text x="740.9" y="657" text-anchor="middle" textLength="57.40" lengthAdjust="spacing">2024-04</text>
<text x="867.9" y="657" text-anchor="middle" textLength="57.40" lengthAdjust="spacing">2024-07</text>
<text x="996.9" y="657" text-anchor="middle" textLength="57.40" lengthAdjust="spacing">2024-10</text>
<text x="60.4" y="621.1" text-anchor="end" textLength="25.40" lengthAdjust="spacing">125</text>
<text x="60.4" y="588.1" text-anchor="end" textLength="25.40" lengthAdjust="spacing">150</text>
<text x="60.4" y="555.1" text-anchor="end" textLength="25.40" lengthAdjust="spacing">175</text>
<text x="1128.2" y="629.9" textLength="34.75" lengthAdjust="spacing">4000</text>
<text x="1128.2" y="594.9" textLength="34.75" lengthAdjust="spacing">5000</text>
<text x="1128.2" y="558.9" textLength="34.75" lengthAdjust="spacing">6000</text>
<text transform="translate(25.7 593.6) rotate(-90)" text-anchor="middle" textLength="38.2" lengthAdjust="spacing">SKEW</text>
</g>
</g>
</svg>
</body>
</html>
